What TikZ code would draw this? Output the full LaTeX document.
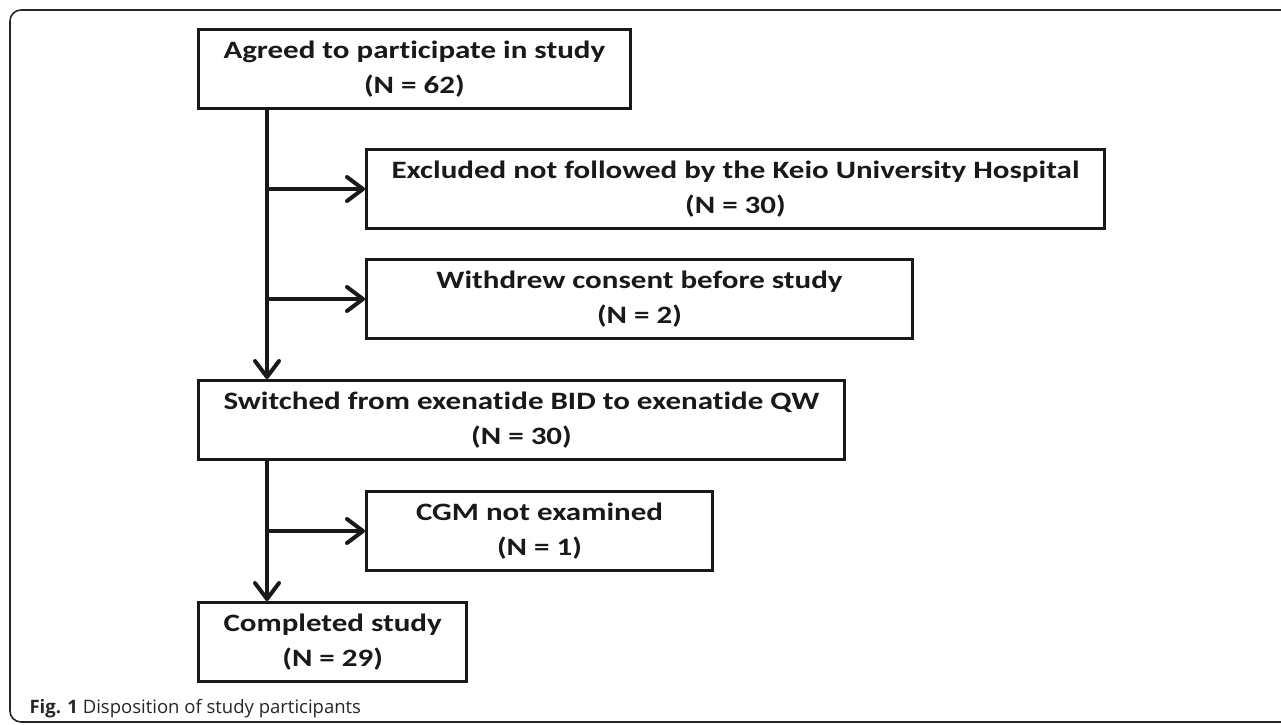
\documentclass[tikz,border=0pt]{standalone}
\usepackage{fontspec}
\setmainfont{Carlito}[Ligatures=NoCommon]
\newfontfamily\boxfont{Carlito}[FakeStretch=1.24, Ligatures=NoCommon]
\newfontfamily\capfont{Open Sans}
\usetikzlibrary{arrows.meta}

\tikzset{
  flowbox/.style={draw=black!90, line width=3pt, anchor=north west, align=center,
    font=\boxfont\fontsize{25}{35}\selectfont\bfseries, text=black!90,
    inner xsep=25pt, minimum height=79pt},
  flowarrow/.style={draw=black!90, line width=4pt,
    -{Straight Barb[length=16pt,width=24pt,line cap=round,line join=round]}}
}

\begin{document}
\begin{tikzpicture}[x=1pt,y=-1pt]
\useasboundingbox (0,0) rectangle (1281,724);
% outer frame, cut off at the right and bottom
\begin{scope}
  \clip (0,0) rectangle (1281,724);
  \draw[black!85, line width=1.6pt, rounded corners=11pt] (10,10) rectangle (1300,722);
\end{scope}
% boxes
\node[flowbox] (agreed) at (197,28) {Agreed to participate in study\\(N = 62)};
\node[flowbox] (excluded) at (365,148) {Excluded not followed by the Keio University Hospital\\(N = 30)};
\node[flowbox, minimum width=546pt] (withdrew) at (365,258) {Withdrew consent before study\\(N = 2)};
\node[flowbox] (switched) at (197,379) {Switched from exenatide BID to exenatide QW\\(N = 30)};
\node[flowbox, minimum width=346pt] (cgm) at (365,490) {CGM not examined\\(N = 1)};
\node[flowbox] (completed) at (197,601) {Completed study\\(N = 29)};
% arrows
\coordinate (trunk) at (267,0);
\draw[flowarrow] (agreed.south -| trunk) -- (switched.north -| trunk);
\draw[flowarrow] (excluded.west -| trunk) -- (excluded.west);
\draw[flowarrow] (withdrew.west -| trunk) -- (withdrew.west);
\draw[flowarrow] (switched.south -| trunk) -- (completed.north -| trunk);
\draw[flowarrow] (cgm.west -| trunk) -- (cgm.west);
\node[anchor=base west, font=\capfont\fontsize{18.5}{22}\selectfont, text=black!85] (caption) at (26,713) {\textbf{Fig. 1} Disposition of study participants};
\end{tikzpicture}
\end{document}
